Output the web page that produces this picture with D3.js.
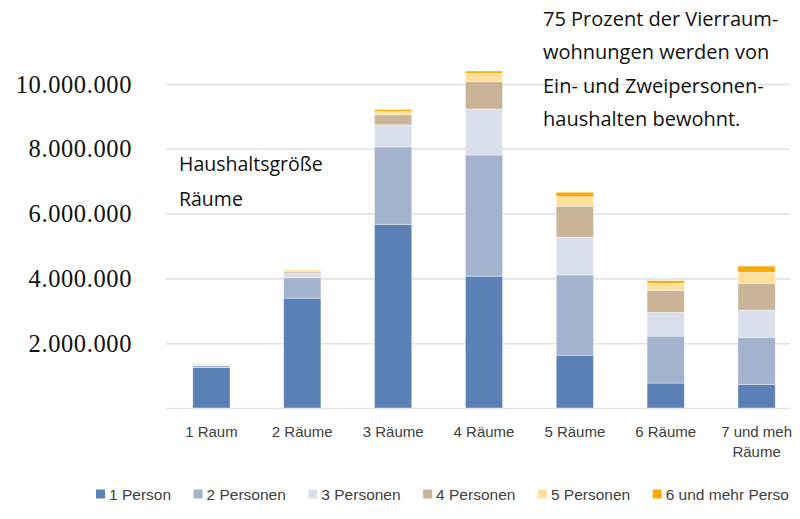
<!DOCTYPE html>
<html>
<head>
<meta charset="utf-8">
<script src="https://cdn.jsdelivr.net/npm/d3@7"></script>
<style>
  body { margin: 0; background: #fff; }
  svg { display: block; }
</style>
</head>
<body>
<div id="chart"></div>
<script>
// Categories (x axis) and household sizes (stack series)
const rooms = ["1 Raum", "2 Räume", "3 Räume", "4 Räume", "5 Räume", "6 Räume", "7 und mehr Räume"];
// labels as they appear in the (cropped) source picture
const roomLabels = [["1 Raum"], ["2 Räume"], ["3 Räume"], ["4 Räume"], ["5 Räume"], ["6 Räume"], ["7 und meh", "Räume"]];
const sizes = ["1 Person", "2 Personen", "3 Personen", "4 Personen", "5 Personen", "6 und mehr Personen"];
const legendLabels = ["1 Person", "2 Personen", "3 Personen", "4 Personen", "5 Personen", "6 und mehr Perso"];
const colors = ["#5a80b6", "#a3b3ce", "#d9e0eb", "#c9b497", "#fee09c", "#f7aa0a"];

// Households per room count, one array per household size
const person1 = [1250000, 3390000, 5670000, 4070000, 1630000, 770000, 730000];
const person2 = [60000, 630000, 2390000, 3740000, 2480000, 1450000, 1450000];
const person3 = [30000, 130000, 680000, 1420000, 1160000, 730000, 840000];
const person4 = [15000, 50000, 310000, 840000, 960000, 680000, 820000];
const person5 = [10000, 40000, 100000, 260000, 290000, 220000, 350000];
const person6 = [5000, 20000, 60000, 70000, 140000, 80000, 190000];

const yTicks = [0, 2000000, 4000000, 6000000, 8000000, 10000000];

const note = ["75 Prozent der Vierraum-", "wohnungen werden von", "Ein- und Zweipersonen-", "haushalten bewohnt."];
const innerTitle = ["Haushaltsgröße", "Räume"];

const seriesValues = [person1, person2, person3, person4, person5, person6];
const table = rooms.map((r, i) => {
    const row = { room: r };
    sizes.forEach((s, k) => row[s] = seriesValues[k][i]);
    return row;
});

const width = 800, height = 519;
const svg = d3.select("#chart").append("svg")
    .attr("width", width)
    .attr("height", height);
const g = svg.append("g");

const x = d3.scaleBand()
    .domain(rooms)
    .range([166, 802])
    .paddingInner(0.59)
    .paddingOuter(0.295);

const y = d3.scaleLinear()
    .domain([0, 10000000])
    .range([408, 84]);

const de = d3.formatLocale({ decimal: ",", thousands: ".", grouping: [3], currency: ["", " €"] });
const fmt = de.format(",d");

// gridlines + y labels
const yAxis = g.append("g")
    .attr("transform", "translate(166,0)")
    .call(d3.axisLeft(y).tickValues(yTicks).tickSize(-624).tickFormat(d => d === 0 ? "" : fmt(d)));
yAxis.select(".domain").remove();
yAxis.selectAll(".tick line")
    .attr("stroke", "#dfe2e7")
    .attr("stroke-width", 1.6);
yAxis.selectAll(".tick text")
    .attr("x", -34)
    .attr("dy", "0.33em")
    .attr("font-family", "Liberation Serif, Times New Roman, serif")
    .attr("font-size", 24.5)
    .attr("letter-spacing", 0.6)
    .attr("fill", "#111");

// stacked bars
const stacked = d3.stack().keys(sizes)(table);
g.append("g")
    .selectAll("g")
    .data(stacked)
    .join("g")
        .attr("fill", (d, i) => colors[i])
    .selectAll("rect")
    .data(d => d)
    .join("rect")
        .attr("x", d => x(d.data.room))
        .attr("y", d => y(d[1]))
        .attr("width", x.bandwidth())
        .attr("height", d => y(d[0]) - y(d[1]))
        .attr("stroke", "#ffffff")
        .attr("stroke-opacity", 0.5)
        .attr("stroke-width", 0.8);

// category labels
const xLabels = g.append("g")
    .selectAll("text")
    .data(rooms)
    .join("text")
        .attr("x", d => x(d) + x.bandwidth() / 2)
        .attr("y", 437)
        .attr("text-anchor", "middle")
        .attr("font-family", "Liberation Sans, Arial, sans-serif")
        .attr("font-size", 15)
        .attr("fill", "#404040");
xLabels.selectAll("tspan")
    .data((d, i) => roomLabels[i])
    .join("tspan")
        .attr("x", function() { return this.parentNode.getAttribute("x"); })
        .attr("dy", (d, i) => i === 0 ? 0 : 20)
        .text(d => d);

// legend
const legend = g.append("g").attr("transform", "translate(96,0)");
let lx = 0;
legendLabels.forEach((s, i) => {
    const item = legend.append("g").attr("transform", `translate(${lx},0)`);
    item.append("rect")
        .attr("x", 0).attr("y", 489.5)
        .attr("width", 9).attr("height", 9)
        .attr("fill", colors[i]);
    const t = item.append("text")
        .attr("x", 13).attr("y", 499.5)
        .attr("font-family", "Liberation Sans, Arial, sans-serif")
        .attr("font-size", 15.5)
        .attr("fill", "#404040")
        .text(s);
    lx += 13 + t.node().getComputedTextLength() + 22.5;
});

// inner title
g.append("g").selectAll("text")
    .data(innerTitle)
    .join("text")
        .attr("x", 179)
        .attr("y", (d, i) => 171 + i * 34.5)
        .attr("font-family", "Open Sans, Noto Sans, sans-serif")
        .attr("font-size", 19.5)
        .attr("fill", "#111")
        .text(d => d);

// annotation
g.append("g").selectAll("text")
    .data(note)
    .join("text")
        .attr("x", 543)
        .attr("y", (d, i) => 26 + i * 33.4)
        .attr("font-family", "Open Sans, Noto Sans, sans-serif")
        .attr("font-size", 20)
        .attr("fill", "#111")
        .text(d => d);
</script>
</body>
</html>
